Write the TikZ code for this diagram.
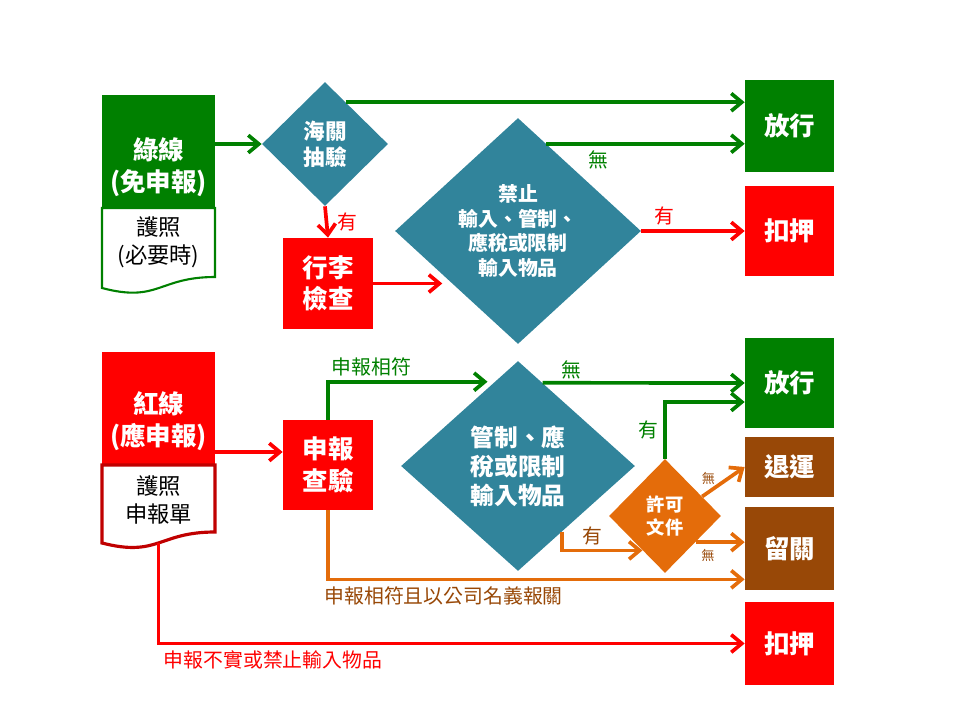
\documentclass[tikz,border=0pt]{standalone}
\usepackage{fontspec}
\setmainfont{Noto Sans CJK TC}
\usetikzlibrary{arrows.meta,positioning,shapes.geometric,calc}
\definecolor{cgreen}{HTML}{008000}
\definecolor{cred}{HTML}{FF0000}
\definecolor{cdred}{HTML}{C00000}
\definecolor{cteal}{HTML}{31849B}
\definecolor{corange}{HTML}{E46C0A}
\definecolor{cbrown}{HTML}{984807}
\newcommand{\fbig}{\fontsize{14.5}{18}\selectfont\bfseries}
\newcommand{\fdoc}{\fontsize{12.7}{16}\selectfont}
\newcommand{\flbl}{\fontsize{11.3}{13}\selectfont}
\newcommand{\fsmall}{\fontsize{7.5}{9}\selectfont}

\begin{document}
\begin{tikzpicture}[
  x=0.02cm,y=-0.02cm,
  box/.style={rectangle,inner sep=0pt,minimum width=1.78cm,text=white,align=center,font=\fbig},
  gbox/.style={box,fill=cgreen},
  rbox/.style={box,fill=cred},
  bbox/.style={box,fill=cbrown},
  dmd/.style={diamond,inner sep=0pt,text=white,align=center},
  doc/.style={fill=white,line width=1.2pt},
  arr/.style={-{Straight Barb[length=6pt,width=10pt]},line width=2.1pt},
  garr/.style={arr,draw=cgreen},
  rarr/.style={arr,draw=cred},
  oarr/.style={arr,draw=corange},
  lbl/.style={font=\flbl,inner sep=2pt},
]
  \useasboundingbox (0,0) rectangle (960,720);

  % green line
  \node[gbox,minimum width=2.26cm,minimum height=2.88cm] (grn) at (158.5,167) {綠線\\(免申報)};
  \draw[doc,draw=cgreen] (102,208) -- (215,208) -- (215,277)
    .. controls (158.5,277) and (158.5,303) .. (102,288) -- cycle;
  \node[font=\fdoc,align=center] (doc1) at (158.5,242) {護照\\(必要時)};

  \node[dmd,fill=cteal,minimum width=2.52cm,minimum height=2.48cm,
    font=\fontsize{12.3}{15}\selectfont\bfseries] (hai) at (325,144) {海關\\抽驗};
  \node[rbox,minimum width=1.8cm,minimum height=1.82cm] (bag) at (328,283.5) {行李\\檢查};
  \node[dmd,fill=cteal,minimum width=4.92cm,minimum height=4.52cm,
    font=\fontsize{11.3}{14}\selectfont\bfseries] (ban) at (518,231)
    {禁止\\輸入、管制、\\應稅或限制\\輸入物品};
  \node[gbox,minimum height=1.84cm] (pass1) at (789.5,126) {放行};
  \node[rbox,minimum height=1.8cm] (seize1) at (789.5,231) {扣押};

  \coordinate (h1) at ($(hai.north)!0.33!(hai.east)$);
  \coordinate (b1) at ($(ban.north)!0.23!(ban.east)$);
  \draw[garr] (hai.west -| grn.east) -- (hai.west);
  \draw[garr] (h1) -- (h1 -| pass1.west);
  \draw[rarr] (hai.south) -- node[lbl,right=3pt,text=cred]{有} (bag.north);
  \draw[rarr,shorten >=8pt] (bag.east) -- (bag.east -| ban.south west);
  \draw[garr] (b1) -- node[lbl,pos=0.26,below=1pt,text=cgreen]{無} (b1 -| pass1.west);
  \draw[rarr] (ban.east) -- node[lbl,pos=0.22,above,text=cred]{有} (seize1.west);

  % red line
  \node[rbox,minimum width=2.26cm,minimum height=2.76cm] (red) at (158.5,421) {紅線\\(應申報)};
  \draw[doc,draw=cdred,line width=1.8pt] (102,465) -- (215,465) -- (215,532)
    .. controls (158.5,532) and (158.5,557.5) .. (102,543) -- cycle;
  \node[font=\fdoc,align=center] (doc2) at (158.5,500) {護照\\申報單};
  \coordinate (d2) at (158.5,543);

  \node[rbox,minimum width=1.8cm,minimum height=1.8cm] (chk) at (328,465) {申報\\查驗};
  \node[dmd,fill=cteal,minimum width=4.68cm,minimum height=4.2cm,
    font=\fontsize{13.5}{16.4}\selectfont\bfseries] (ctl) at (518,466)
    {管制、應\\稅或限制\\輸入物品};
  \node[dmd,fill=corange,minimum width=2.24cm,minimum height=2.28cm,
    font=\fontsize{10.4}{13}\selectfont\bfseries] (perm) at (665,516) {許可\\文件};
  \node[gbox,minimum height=1.8cm] (pass2) at (789.5,383) {放行};
  \node[bbox,minimum height=1.2cm] (retn) at (789.5,467) {退運};
  \node[bbox,minimum height=1.66cm] (hold) at (789.5,548.5) {留關};
  \node[rbox,minimum height=1.66cm] (seize2) at (789.5,643.5) {扣押};

  \coordinate (r1) at ($(chk.west)+(0,-13)$);
  \coordinate (g2) at ($(ctl.north)!0.2!(ctl.west)$);
  \coordinate (g3) at ($(ctl.north)!0.21!(ctl.east)$);
  \coordinate (o1) at ($(ctl.south)!0.376!(ctl.east)$);
  \coordinate (o2) at ($(perm.west)!0.6!(perm.south)$);
  \coordinate (o3) at ($(perm.north)!0.66!(perm.east)$);
  \coordinate (o4) at ($(perm.east)!0.456!(perm.south)$);
  \coordinate (o5) at ($(hold.south west)+(0,-11)$);

  \draw[rarr] (r1 -| red.east) -- (r1);
  \draw[garr,shorten >=4pt] (chk.north) |- node[lbl,pos=0.63,above,text=cgreen]{申報相符} (g2);
  \draw[garr] (g3) -- node[lbl,pos=0.14,above=-1pt,text=cgreen]{無} (pass2.west);
  \draw[garr] (perm.north) |- node[lbl,pos=0.25,left=1pt,text=cgreen]{有} ($(pass2.west)+(0,19)$);
  \draw[oarr] (o1) |- node[lbl,pos=0.69,above,text=cbrown]{有} (o2);
  \draw[oarr] (o3) -- node[font=\fsmall,inner sep=2pt,pos=0.15,above=1pt,text=cbrown]{無} (retn.west);
  \draw[oarr] (o4) -- node[font=\fsmall,inner sep=2pt,pos=0.25,below=1pt,text=cbrown]{無} (o4 -| hold.west);
  \draw[oarr] (chk.south) |- node[lbl,pos=0.5,anchor=north west,xshift=-5pt,yshift=-1pt,text=cbrown]
    {申報相符且以公司名義報關} (o5);
  \draw[rarr] (d2) |- node[lbl,pos=0.5,anchor=north west,yshift=-1pt,text=cred]
    {申報不實或禁止輸入物品} (seize2.west);
\end{tikzpicture}
\end{document}
